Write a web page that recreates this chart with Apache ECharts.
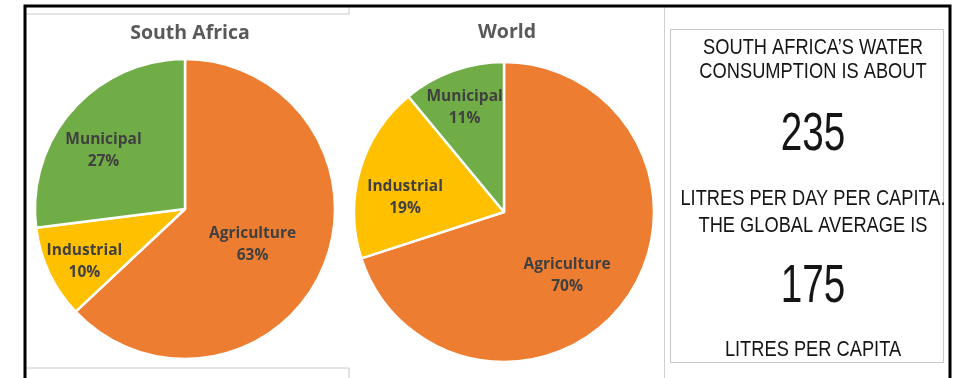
<!DOCTYPE html>
<html><head><meta charset="utf-8">
<script src="https://cdn.jsdelivr.net/npm/echarts@6/dist/echarts.min.js"></script>
<style>html,body{margin:0;padding:0;background:#fff}#c{width:956px;height:378px}</style>
</head><body><div id="c"></div>
<script>
const categories = ['Agriculture', 'Industrial', 'Municipal'];
const southAfricaValues = [63, 10, 27];
const worldValues = [70, 19, 11];
const chartTitles = ['South Africa', 'World'];
const boxLines = ["SOUTH AFRICA\u2019S WATER", 'CONSUMPTION IS ABOUT', '235', 'LITRES PER DAY PER CAPITA.', 'THE GLOBAL AVERAGE IS', '175', 'LITRES PER CAPITA'];

const colors = ['#ED7D31', '#FFC000', '#70AD47'];
const labelFont = '"Open Sans", Lato, sans-serif';
const boxFont = '"Liberation Sans", Arial, sans-serif';

function pieData(values, offsets) {
  return categories.map((name, i) => ({
    name, value: values[i],
    itemStyle: { color: colors[i] },
    label: { offset: offsets[i] }
  }));
}
function pieSeries(values, center, offsets) {
  return {
    type: 'pie', radius: 150, center, startAngle: 90, clockwise: true,
    silent: true, animation: false,
    itemStyle: { borderColor: '#fff', borderWidth: 2.5 },
    label: {
      show: true, position: 'inside', formatter: '{b}\n{c}%',
      fontFamily: labelFont, fontWeight: 'bold', fontSize: 15.5, lineHeight: 22,
      color: '#404040'
    },
    labelLine: { show: false },
    data: pieData(values, offsets)
  };
}

const chart = echarts.init(document.getElementById('c'));
const boxY = [48, 72, 135, 199, 226, 287, 350];
const boxSize = [22, 22, 53, 22, 22, 53, 22];
const boxScale = [0.83, 0.83, 0.73, 0.83, 0.83, 0.73, 0.83];
const graphics = [
  { type: 'line', shape: { x1: 25, y1: 14, x2: 349, y2: 14 }, style: { stroke: '#c8c8c8', lineWidth: 1 } },
  { type: 'line', shape: { x1: 25, y1: 368, x2: 349, y2: 368 }, style: { stroke: '#c8c8c8', lineWidth: 1 } },
  { type: 'line', shape: { x1: 349, y1: 6, x2: 349, y2: 14 }, style: { stroke: '#c8c8c8', lineWidth: 1 } },
  { type: 'line', shape: { x1: 349, y1: 368, x2: 349, y2: 378 }, style: { stroke: '#c8c8c8', lineWidth: 1 } },
  { type: 'line', shape: { x1: 664.5, y1: 6, x2: 664.5, y2: 378 }, style: { stroke: '#d0d0d0', lineWidth: 1 } },
  { type: 'rect', shape: { x: 670.5, y: 29.5, width: 273, height: 333 }, style: { fill: 'none', stroke: '#c8c8c8', lineWidth: 1 } },
  { type: 'polyline', shape: { points: [[25, 380], [25, 6], [950, 6], [950, 380]] }, style: { fill: 'none', stroke: '#000', lineWidth: 3 } },
  { type: 'text', x: 190, y: 33, style: { text: chartTitles[0], fontFamily: labelFont, fontWeight: 'bold', fontSize: 19.5, fill: '#595959', align: 'center', verticalAlign: 'middle' } },
  { type: 'text', x: 507, y: 32, style: { text: chartTitles[1], fontFamily: labelFont, fontWeight: 'bold', fontSize: 19.5, fill: '#595959', align: 'center', verticalAlign: 'middle' } }
];
boxLines.forEach((t, i) => {
  graphics.push({ type: 'text', x: 813, y: boxY[i], scaleX: boxScale[i], style: { text: t, fontFamily: boxFont, fontSize: boxSize[i], fill: '#151515', align: 'center', verticalAlign: 'middle' } });
});

chart.setOption({
  backgroundColor: '#fff',
  animation: false,
  series: [
    pieSeries(southAfricaValues, [185, 209], [[-4, 5], [-30, 19], [-23, -7]]),
    pieSeries(worldValues, [504, 212], [[0, 18], [-24, 7], [-13, -31]])
  ],
  graphic: graphics
});
</script></body></html>
